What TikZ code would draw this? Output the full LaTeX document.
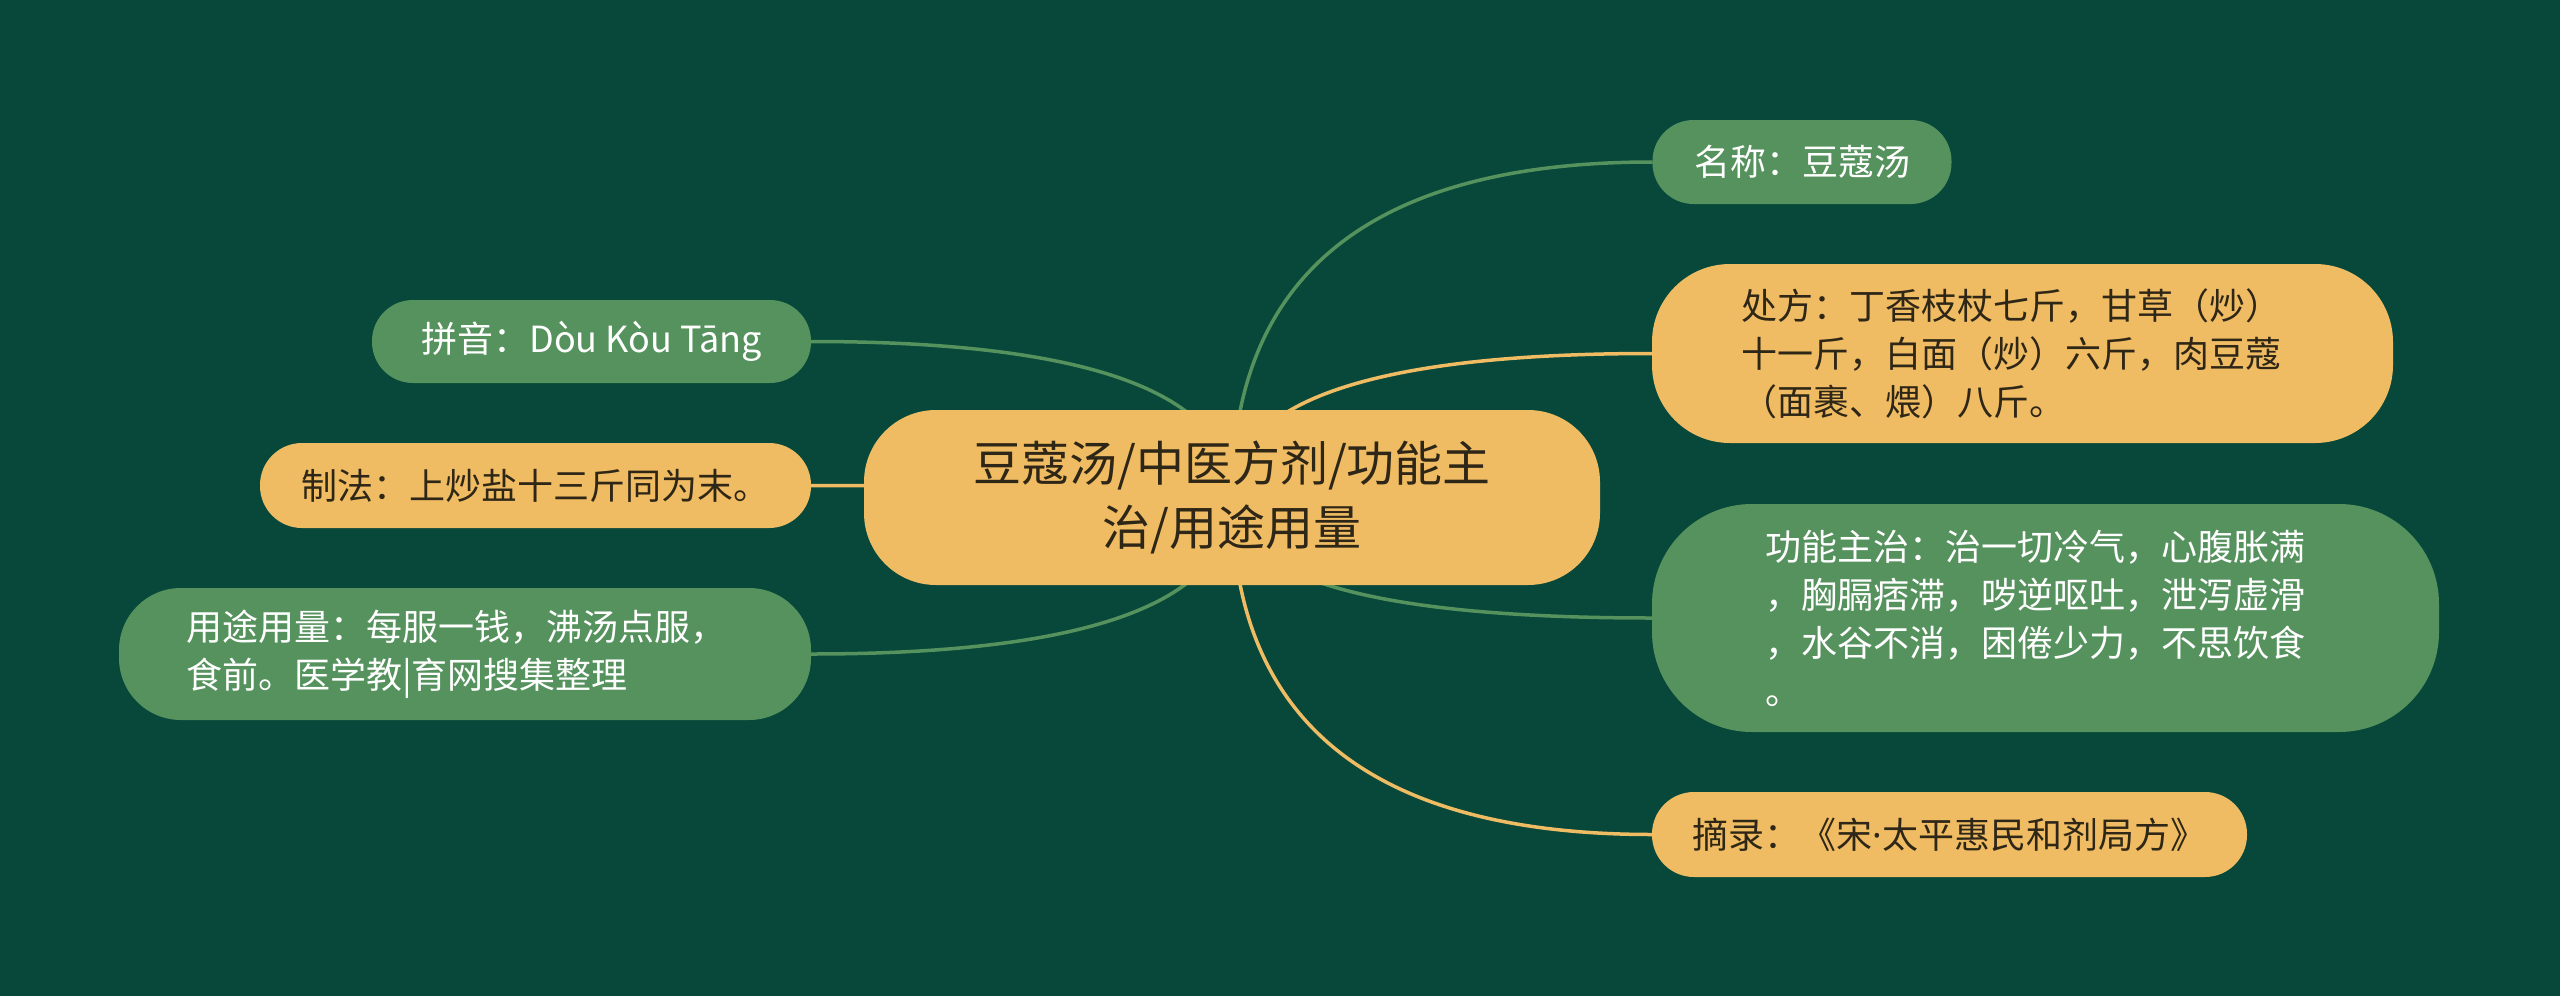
\documentclass[tikz,border=0pt]{standalone}
\usepackage{fontspec}
\setmainfont{Noto Sans CJK SC}
\newfontfamily\latinfont{Noto Sans}
\usetikzlibrary{calc}
\pgfdeclarelayer{bglayer}
\pgfsetlayers{bglayer,main}
\definecolor{bgc}{HTML}{07483A}
\definecolor{gnode}{HTML}{55925D}
\definecolor{onode}{HTML}{F0BC63}
\definecolor{dtext}{HTML}{2E2616}
\tikzset{
  box/.style={inner sep=0pt, outer sep=0pt},
  gbox/.style={box, fill=gnode, text=white},
  obox/.style={box, fill=onode, text=dtext},
  body/.style={font=\fontsize{36}{48}\selectfont},
  link/.style={line width=3.5pt},
  glink/.style={link, draw=gnode},
  olink/.style={link, draw=onode},
}
\newcommand{\qlink}[3]{%
  \coordinate (qp) at (#2 |- #3);
  \draw[#1] (#2) .. controls ($(#2)!0.6667!(qp)$) and ($(#3)!0.6667!(qp)$) .. (#3);
}
\begin{document}
\begin{tikzpicture}[x=1pt, y=-1pt]
\useasboundingbox (0,0) rectangle (2560,996);

% central topic
\node[obox, minimum width=736pt, minimum height=175pt, rounded corners=72pt, align=center,
      font=\fontsize{48}{64}\selectfont] (c) at (1232,497.5)
  {豆蔻汤/中医方剂/功能主\\治/用途用量};

% right side
\node[gbox, body, minimum width=299pt, minimum height=84pt, rounded corners=41pt] (n1) at (1802,162)
  {名称：豆蔻汤};
\node[obox, body, minimum width=741pt, minimum height=179pt, rounded corners=78pt,
      text width=562pt, align=left] (n2) at (2022.5,353.5)
  {处方：丁香枝杖七斤，甘草（炒）\\十一斤，白面（炒）六斤，肉豆蔻\\（面裹、煨）八斤。};
\node[gbox, body, minimum width=787pt, minimum height=228pt, rounded corners=100pt,
      text width=560pt, align=left] (n3) at (2045.5,618)
  {功能主治：治一切冷气，心腹胀满\\，胸膈痞滞，哕逆呕吐，泄泻虚滑\\，水谷不消，困倦少力，不思饮食\\。};
\node[obox, body, minimum width=595pt, minimum height=85pt, rounded corners=42pt] (n4) at (1949.5,834.5)
  {摘录：《宋{\latinfont ·}太平惠民和剂局方》};

% left side
\node[gbox, body, minimum width=439pt, minimum height=83pt, rounded corners=41pt] (m1) at (591.5,341.5)
  {拼音：Dòu Kòu Tāng};
\node[obox, body, minimum width=551pt, minimum height=85pt, rounded corners=42pt] (m2) at (535.5,485.5)
  {制法：上炒盐十三斤同为末。};
\node[gbox, body, minimum width=692pt, minimum height=132pt, rounded corners=62pt,
      text width=558pt, align=left] (m3) at (465,654)
  {用途用量：每服一钱，沸汤点服，\\食前。医学教|育网搜集整理};

\begin{pgfonlayer}{bglayer}
  \fill[bgc] (0,0) rectangle (2560,996);
  \qlink{glink}{c.center}{n1.west}
  \qlink{olink}{c.center}{n2.west}
  \qlink{glink}{c.center}{n3.west}
  \qlink{olink}{c.center}{n4.west}
  \qlink{glink}{c.center}{m1.east}
  \qlink{olink}{c.center}{m2.east}
  \qlink{glink}{c.center}{m3.east}
\end{pgfonlayer}
\end{tikzpicture}
\end{document}
